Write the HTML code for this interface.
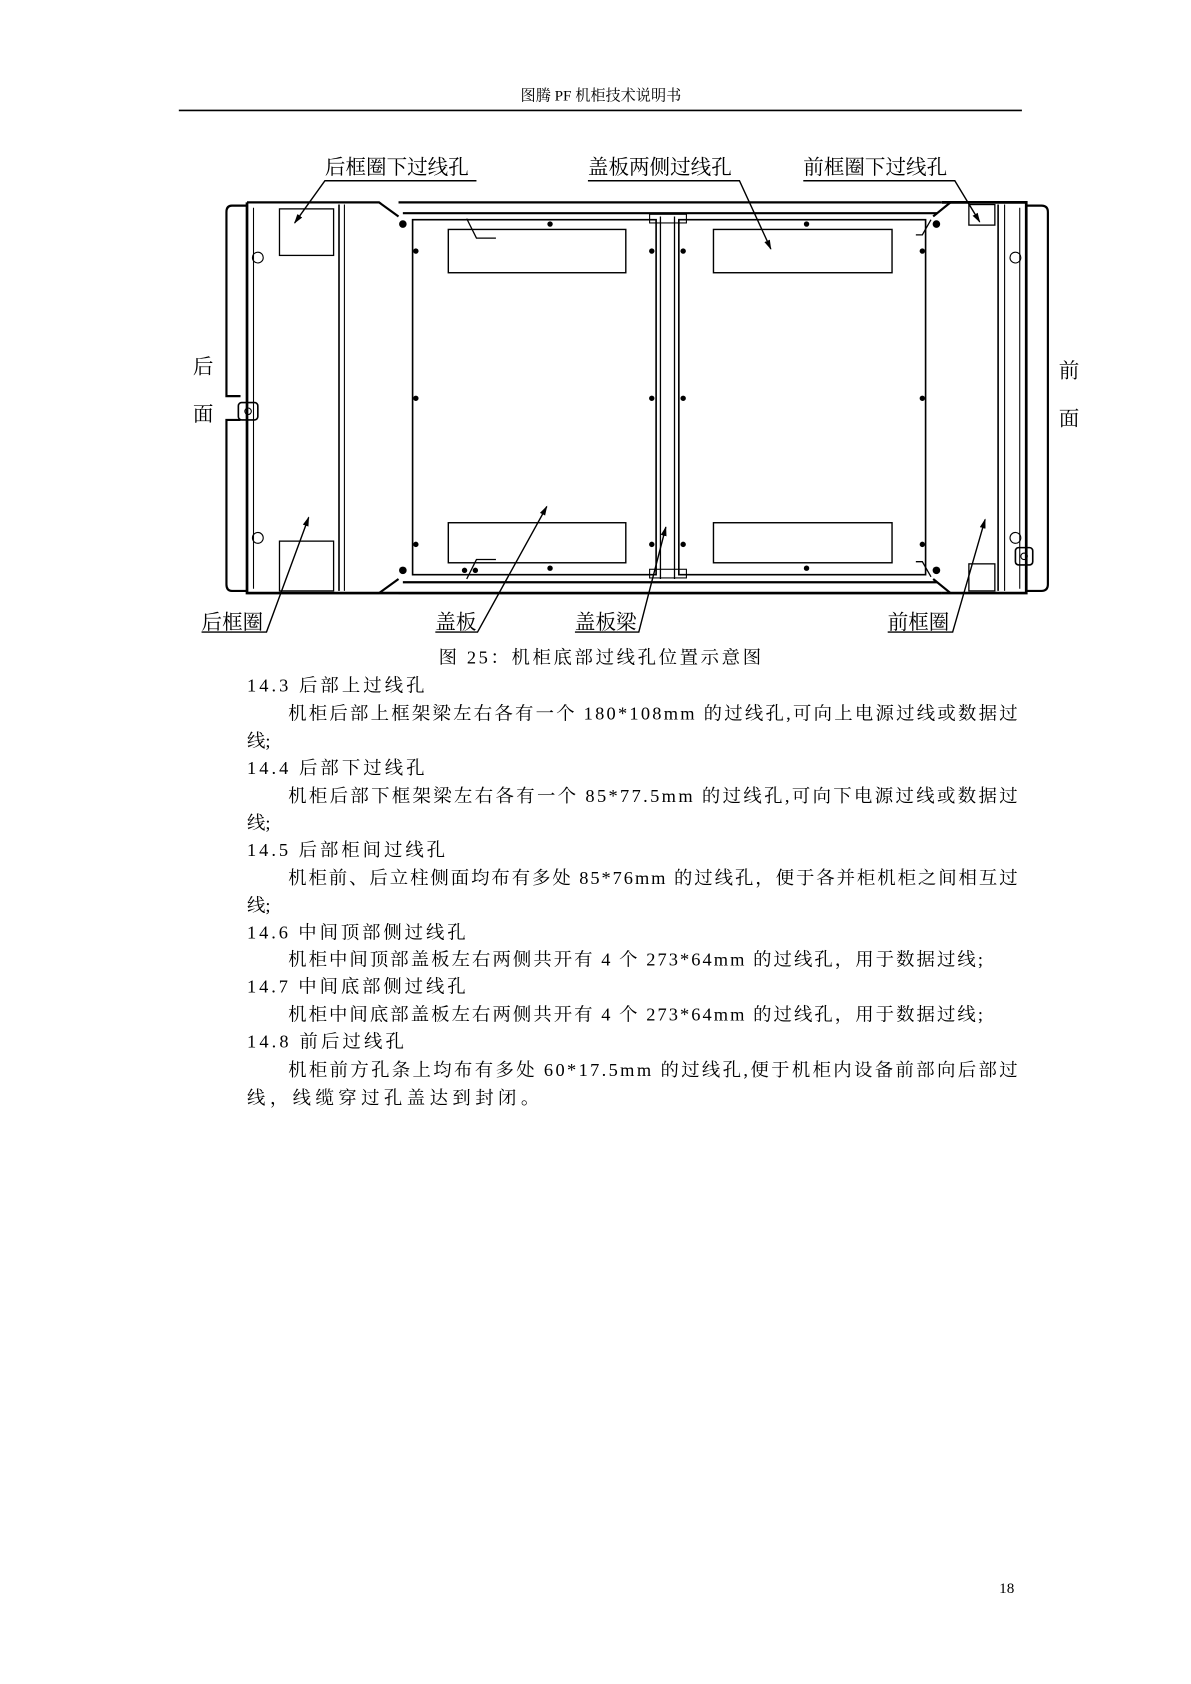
<!DOCTYPE html>
<html><head><meta charset="utf-8"><style>
html,body{margin:0;padding:0;background:#fff}
svg{display:block}
text{font-family:"Liberation Serif","Noto Serif CJK SC","Noto Sans CJK SC",serif;fill:#000}
</style></head><body>
<svg width="1191" height="1684" viewBox="0 0 1100 1556" xmlns="http://www.w3.org/2000/svg">
<defs><marker id="a" viewBox="0 0 10 10" refX="9" refY="5" markerWidth="7" markerHeight="7" orient="auto"><path d="M0,2 L10,5 L0,8 z" fill="#000"/></marker></defs>
<text x="555" y="93" font-size="14" text-anchor="middle">图腾 PF 机柜技术说明书</text>
<line x1="165" y1="102" x2="944" y2="102" stroke="#000" stroke-width="1.5"/>

<g fill="none" stroke="#000">
<path d="M228,190 H214 Q209,190 209,196 V366 H222 M222,388 H209 V540 Q209,546 214,546 H228" stroke-width="2"/>
<rect x="220" y="372" width="18" height="16" rx="3" stroke-width="1.5"/>
<circle cx="229" cy="380" r="3"/>
<path d="M948,190 H962 Q968,190 968,196 V540 Q968,546 962,546 H948" stroke-width="2"/>
<rect x="938" y="506" width="16" height="16" rx="3" stroke-width="1.5"/>
<circle cx="946" cy="514" r="3"/>
<path d="M228,187 V548 H870 V548" stroke-width="2.5"/>
<path d="M228,187 H350 L368,200 M228,548 H350 L368,535" stroke-width="2"/>
<path d="M368,187 H870 M372,197 H866 M368,548 H870 M372,538 H866" stroke-width="2"/>
<path d="M870,187 H948 V548 H870" stroke-width="2.5"/>
<path d="M862,200 L878,187 M862,535 L878,548" stroke-width="2"/>
<line x1="234" y1="192" x2="234" y2="544" stroke-width="1"/>
<line x1="313" y1="189" x2="313" y2="546" stroke-width="1.5"/>
<line x1="318" y1="189" x2="318" y2="546" stroke-width="1"/>
<line x1="922" y1="189" x2="922" y2="546" stroke-width="1.5"/>
<line x1="928" y1="189" x2="928" y2="546" stroke-width="1"/>
<line x1="942" y1="192" x2="942" y2="544" stroke-width="1"/>
<rect x="258" y="193" width="50" height="43" stroke-width="1.2"/>
<rect x="258" y="500" width="50" height="46" stroke-width="1.2"/>
<rect x="895" y="189" width="24" height="19" stroke-width="1.2"/>
<rect x="895" y="521" width="24" height="25" stroke-width="1.2"/>
<circle cx="238" cy="238" r="5"/><circle cx="238" cy="497" r="5"/>
<circle cx="938" cy="238" r="5"/><circle cx="938" cy="497" r="5"/>
<rect x="381" y="203" width="225" height="328" stroke-width="1.5"/>
<rect x="627" y="203" width="228" height="328" stroke-width="1.5"/>
<line x1="610" y1="200" x2="610" y2="535" stroke-width="1.2"/>
<line x1="623" y1="200" x2="623" y2="535" stroke-width="1.2"/>
<rect x="600" y="198" width="34" height="8" stroke-width="1"/>
<rect x="600" y="526" width="34" height="8" stroke-width="1"/>
<rect x="414" y="212" width="164" height="40" stroke-width="1.3"/>
<rect x="659" y="212" width="165" height="40" stroke-width="1.3"/>
<rect x="414" y="483" width="164" height="37" stroke-width="1.3"/>
<rect x="659" y="483" width="165" height="37" stroke-width="1.3"/>
<path d="M431,202 L440,220 H458 M431,535 L440,517 H458 M860,203 L852,217 H846 M860,533 L852,519 H846" stroke-width="1.2"/>
</g>
<g fill="#000">
<circle cx="372" cy="207" r="3.5"/><circle cx="372" cy="527" r="3.5"/>
<circle cx="865" cy="207" r="3.5"/><circle cx="865" cy="527" r="3.5"/>
<circle cx="384" cy="232" r="2.5"/><circle cx="384" cy="368" r="2.5"/><circle cx="384" cy="503" r="2.5"/>
<circle cx="602" cy="232" r="2.5"/><circle cx="602" cy="368" r="2.5"/><circle cx="602" cy="503" r="2.5"/>
<circle cx="631" cy="232" r="2.5"/><circle cx="631" cy="368" r="2.5"/><circle cx="631" cy="503" r="2.5"/>
<circle cx="852" cy="232" r="2.5"/><circle cx="852" cy="368" r="2.5"/><circle cx="852" cy="503" r="2.5"/>
<circle cx="508" cy="207" r="2.5"/><circle cx="745" cy="207" r="2.5"/>
<circle cx="508" cy="525" r="2.5"/><circle cx="745" cy="525" r="2.5"/>
<circle cx="429" cy="527" r="2.5"/><circle cx="439" cy="527" r="2.5"/>
</g>
<g stroke="#000" stroke-width="1.3" fill="none">
<path d="M440,167 H300 L272,206" marker-end="url(#a)"/>
<path d="M543,167 H683 L712,230" marker-end="url(#a)"/>
<path d="M742,167 H882 L905,205" marker-end="url(#a)"/>
<path d="M186,584 H246 L285,478" marker-end="url(#a)"/>
<path d="M402,584 H441 L505,468" marker-end="url(#a)"/>
<path d="M531,584 H590 L615,487" marker-end="url(#a)"/>
<path d="M820,584 H880 L910,480" marker-end="url(#a)"/>
</g>
<g font-size="19">
<text x="300" y="161">后框圈下过线孔</text>
<text x="543" y="161">盖板两侧过线孔</text>
<text x="742" y="161">前框圈下过线孔</text>
<text x="186" y="581">后框圈</text>
<text x="402" y="581">盖板</text>
<text x="531" y="581">盖板梁</text>
<text x="820" y="581">前框圈</text>
<text x="178" y="345">后</text><text x="178" y="389">面</text>
<text x="978" y="349">前</text><text x="978" y="393">面</text>
</g>
<g font-size="17">
<text x="405" y="613" textLength="298" lengthAdjust="spacing">图 25：机柜底部过线孔位置示意图</text>
<text x="228" y="639" textLength="164" lengthAdjust="spacing">14.3  后部上过线孔</text>
<text x="266" y="665" textLength="674" lengthAdjust="spacing">机柜后部上框架梁左右各有一个 180*108mm 的过线孔,可向上电源过线或数据过</text>
<text x="228" y="690">线;</text>
<text x="228" y="715" textLength="164" lengthAdjust="spacing">14.4  后部下过线孔</text>
<text x="266" y="741" textLength="674" lengthAdjust="spacing">机柜后部下框架梁左右各有一个 85*77.5mm 的过线孔,可向下电源过线或数据过</text>
<text x="228" y="766">线;</text>
<text x="228" y="791" textLength="183" lengthAdjust="spacing">14.5  后部柜间过线孔</text>
<text x="266" y="817" textLength="674" lengthAdjust="spacing">机柜前、后立柱侧面均布有多处 85*76mm 的过线孔，便于各并柜机柜之间相互过</text>
<text x="228" y="842">线;</text>
<text x="228" y="867" textLength="202" lengthAdjust="spacing">14.6  中间顶部侧过线孔</text>
<text x="266" y="892" textLength="642" lengthAdjust="spacing">机柜中间顶部盖板左右两侧共开有 4 个 273*64mm 的过线孔，用于数据过线;</text>
<text x="228" y="917" textLength="202" lengthAdjust="spacing">14.7  中间底部侧过线孔</text>
<text x="266" y="943" textLength="642" lengthAdjust="spacing">机柜中间底部盖板左右两侧共开有 4 个 273*64mm 的过线孔，用于数据过线;</text>
<text x="228" y="968" textLength="145" lengthAdjust="spacing">14.8  前后过线孔</text>
<text x="266" y="994" textLength="674" lengthAdjust="spacing">机柜前方孔条上均布有多处 60*17.5mm 的过线孔,便于机柜内设备前部向后部过</text>
<text x="228" y="1020" textLength="270" lengthAdjust="spacing">线，线缆穿过孔盖达到封闭。</text>
</g>
<text x="923" y="1472" font-size="14">18</text>
</svg>
</body></html>
